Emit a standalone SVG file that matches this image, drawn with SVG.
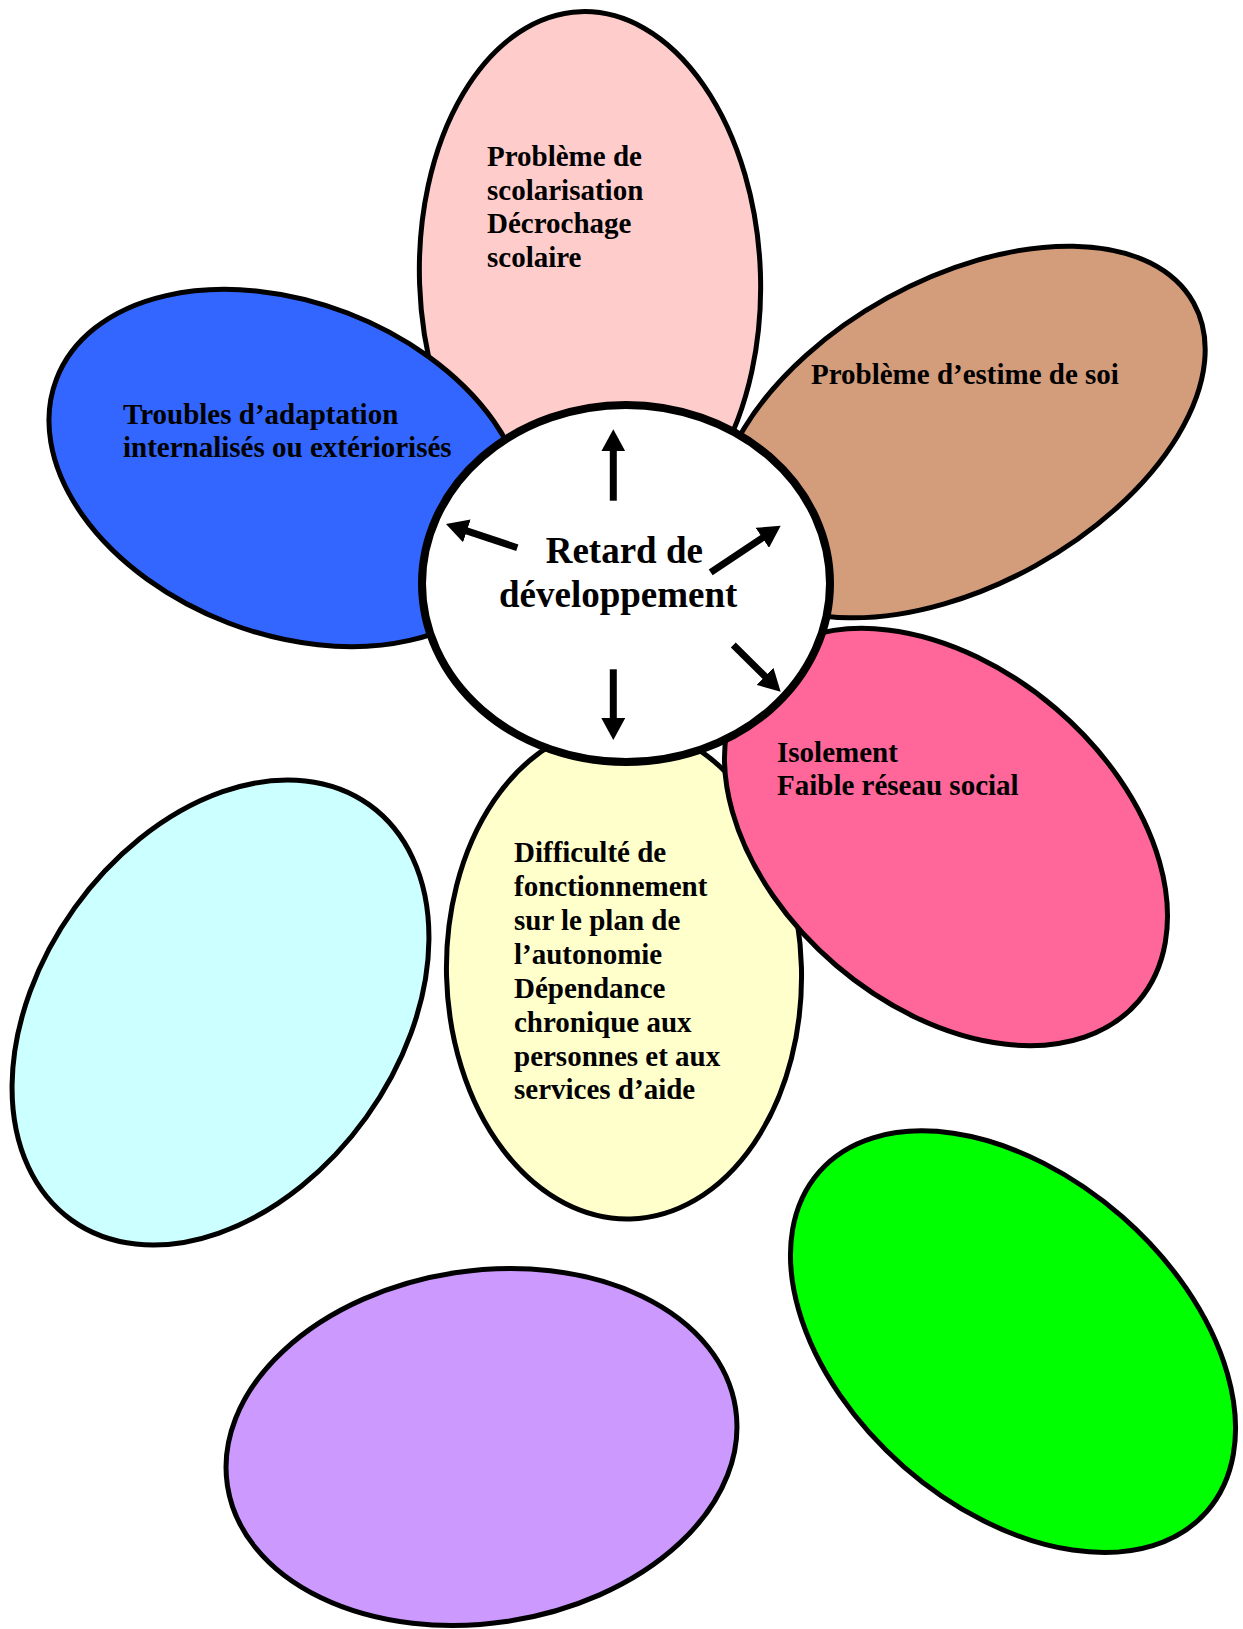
<svg xmlns="http://www.w3.org/2000/svg" width="1243" height="1629" viewBox="0 0 1243 1629">
<style>
.petal{stroke:#000;stroke-width:5}
.hub{fill:#fff;stroke:#000;stroke-width:8}
.t{font-family:"Liberation Serif","Times New Roman",serif;font-weight:bold;font-size:29px;fill:#000}
.tc{font-family:"Liberation Serif","Times New Roman",serif;font-weight:bold;font-size:37px;fill:#000}
.arr{stroke:#000;stroke-width:7;fill:none;marker-end:url(#head)}
</style>
<defs>
<marker id="head" markerUnits="userSpaceOnUse" viewBox="0 0 22 24" markerWidth="22" markerHeight="24" refX="1" refY="12" orient="auto">
<path d="M0,0 L22,12 L0,24 z" fill="#000"/>
</marker>
</defs>
<rect width="1243" height="1629" fill="#fff"/>
<g id="petal-scolarisation">
<ellipse class="petal" cx="590" cy="278.5" rx="170.5" ry="267" transform="rotate(-2 590 278.5)" fill="#FFCCCC"/>
<text class="t"><tspan x="487" y="166">Problème de</tspan><tspan x="487" y="199.5">scolarisation</tspan><tspan x="487" y="233">Décrochage</tspan><tspan x="487" y="266.5">scolaire</tspan></text>
</g>
<g id="petal-estime">
<ellipse class="petal" cx="961" cy="432" rx="266" ry="153" transform="rotate(-29 961 432)" fill="#D39C7B"/>
<text class="t" x="811" y="384">Problème d’estime de soi</text>
</g>
<g id="petal-troubles">
<ellipse class="petal" cx="288" cy="468" rx="248" ry="166" transform="rotate(21 288 468)" fill="#3366FF"/>
<text class="t"><tspan x="123" y="424">Troubles d’adaptation</tspan><tspan x="123" y="457.3">internalisés ou extériorisés</tspan></text>
</g>
<g id="petal-autonomie">
<ellipse class="petal" cx="624" cy="972" rx="177.5" ry="247" transform="rotate(-1.5 624 972)" fill="#FFFFCC"/>
<text class="t"><tspan x="514" y="862.3">Difficulté de</tspan><tspan x="514" y="896.2">fonctionnement</tspan><tspan x="514" y="930">sur le plan de</tspan><tspan x="514" y="963.9">l’autonomie</tspan><tspan x="514" y="997.7">Dépendance</tspan><tspan x="514" y="1031.6">chronique aux</tspan><tspan x="514" y="1065.5">personnes et aux</tspan><tspan x="514" y="1099.3">services d’aide</tspan></text>
</g>
<g id="petal-isolement">
<ellipse class="petal" cx="946" cy="837" rx="253" ry="169" transform="rotate(40.5 946 837)" fill="#FF6699"/>
<text class="t"><tspan x="777" y="762">Isolement</tspan><tspan x="777" y="795">Faible réseau social</tspan></text>
</g>
<g id="petal-cyan">
<ellipse class="petal" cx="220.5" cy="1012.5" rx="255.5" ry="179.5" transform="rotate(-54.35 220.5 1012.5)" fill="#CCFFFF"/>
</g>
<g id="petal-purple">
<ellipse class="petal" cx="481.5" cy="1447" rx="257" ry="176.3" transform="rotate(-8.64 481.5 1447)" fill="#CC99FF"/>
</g>
<g id="petal-green">
<ellipse class="petal" cx="1013" cy="1341.7" rx="257.7" ry="166" transform="rotate(41.25 1013 1341.7)" fill="#00FF00"/>
</g>
<g id="center">
<ellipse class="hub" cx="626" cy="583.5" rx="204" ry="178.5"/>
<text class="tc"><tspan x="545.7" y="563">Retard de</tspan><tspan x="499" y="607">développement</tspan></text>
</g>
<g id="connectors">
<line class="arr" x1="613.3" y1="500.7" x2="613.3" y2="450.3"/>
<line class="arr" x1="517.3" y1="547.7" x2="465.9" y2="530.6"/>
<line class="arr" x1="710.7" y1="572.3" x2="763.2" y2="537.3"/>
<line class="arr" x1="733.3" y1="645" x2="765.7" y2="677"/>
<line class="arr" x1="613.3" y1="669.3" x2="613.3" y2="719"/>
</g>
</svg>
